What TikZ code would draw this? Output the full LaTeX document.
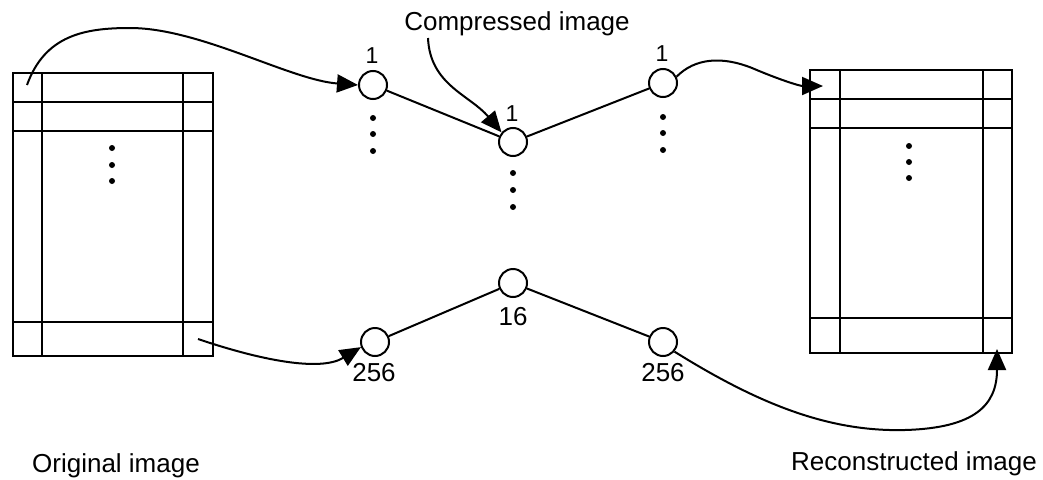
\documentclass[tikz,border=0pt]{standalone}
\usepackage{fontspec}
\setmainfont{Liberation Sans}
\usetikzlibrary{arrows.meta}
\begin{document}
\begin{tikzpicture}[x=1pt,y=-1pt,
  ln/.style={line width=2pt},
  neuron/.style={circle, draw, line width=2pt, minimum size=28pt, inner sep=0pt},
  lbl/.style={font=\fontsize{26}{30}\selectfont, inner sep=0pt},
  slbl/.style={font=\fontsize{23}{27}\selectfont, inner sep=0pt},
  arr/.style={line width=2pt, -{Triangle[length=21pt,width=18pt]}},
  dotm/.style={circle, fill, inner sep=0pt, minimum size=6pt}]
\useasboundingbox (0,0) rectangle (1043,479);

% original image grid
\node[draw, line width=2pt, minimum width=200pt, minimum height=283pt, inner sep=0pt] (L) at (113,214.5) {};
\draw[ln] (42,73) -- (42,356);
\draw[ln] (183,73) -- (183,356);
\draw[ln] (13,102) -- (213,102);
\draw[ln] (13,131) -- (213,131);
\draw[ln] (13,322) -- (213,322);
\node[dotm] (ld1) at (112,148) {};
\node[dotm] (ld2) at (112,165) {};
\node[dotm] (ld3) at (112,181) {};

% reconstructed image grid
\node[draw, line width=2pt, minimum width=202pt, minimum height=283pt, inner sep=0pt] (R) at (911,211.5) {};
\draw[ln] (840,70) -- (840,353);
\draw[ln] (983,70) -- (983,353);
\draw[ln] (810,99) -- (1012,99);
\draw[ln] (810,128) -- (1012,128);
\draw[ln] (810,318) -- (1012,318);
\node[dotm] (rd1) at (909,146) {};
\node[dotm] (rd2) at (909,162) {};
\node[dotm] (rd3) at (909,178) {};

% neurons
\node[neuron] (a1) at (373,85) {};
\node[neuron] (m1) at (513,142) {};
\node[neuron] (c1) at (663,83) {};
\node[neuron] (a2) at (375,342) {};
\node[neuron] (m2) at (513,283) {};
\node[neuron] (c2) at (663,342) {};

\draw[ln] (a1) -- (m1) -- (c1);
\draw[ln] (a2) -- (m2) -- (c2);

% labels
\node[slbl] (la1) at (372,56) {1};
\node[slbl] (lm1) at (512,114) {1};
\node[slbl] (lc1) at (662,54) {1};
\node[lbl] (la2) at (374,373) {256};
\node[lbl] (lm2) at (513,317) {16};
\node[lbl] (lc2) at (663,373) {256};

% vertical dots
\node[dotm] (d11) at (373,118) {};
\node[dotm] (d12) at (373,134) {};
\node[dotm] (d13) at (373,151) {};
\node[dotm] (d21) at (513,173) {};
\node[dotm] (d22) at (513,190) {};
\node[dotm] (d23) at (513,207) {};
\node[dotm] (d31) at (663,117) {};
\node[dotm] (d32) at (663,133) {};
\node[dotm] (d33) at (663,150) {};

% texts
\node[lbl, anchor=base] (tc) at (517,30) {Compressed image};
\node[lbl, anchor=base] (to) at (116,472) {Original image};
\node[lbl, anchor=base] (tr) at (914,470) {Reconstructed image};

% arrows
\coordinate (s1) at (27,85);
\coordinate (s2) at (198,339);
\coordinate (s3) at (428,38);
\coordinate (e4) at (823,86);
\coordinate (e5) at (997,349);

\draw[arr] (s1) .. controls (45,35) and (85,28) .. (130,28)
  .. controls (200,28) and (290,80) .. (a1.west);
\draw[arr] (s2) .. controls (260,360) and (320,372) .. (a2.200);
\draw[arr] (s3) .. controls (430,85) and (470,95) .. (m1.140);
\draw[arr] (c1.25) .. controls (695,58) and (722,56) .. (752,68)
  .. controls (780,80) and (800,86) .. (e4);
\draw[arr] (c2.-40) .. controls (760,405) and (830,432) .. (905,430)
  .. controls (975,428) and (997,405) .. (e5);
\end{tikzpicture}
\end{document}
